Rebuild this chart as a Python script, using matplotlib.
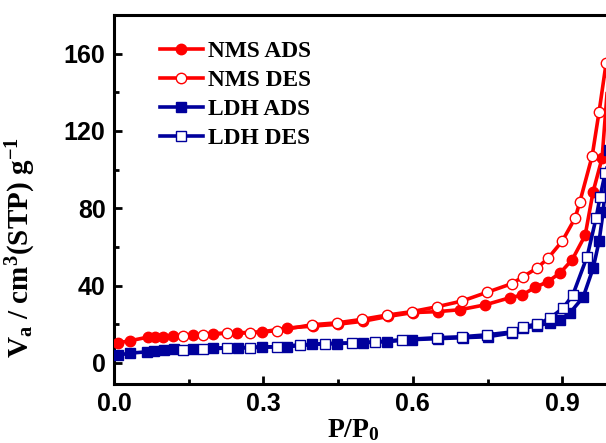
import matplotlib
matplotlib.use("Agg")
import matplotlib.pyplot as plt
from matplotlib.ticker import MultipleLocator

# N2 adsorption / desorption isotherms
nms_ads_x = [0.008, 0.032, 0.068, 0.082, 0.098, 0.118, 0.159, 0.199, 0.247, 0.297,
             0.347, 0.40, 0.45, 0.50, 0.55, 0.60, 0.65, 0.695, 0.745, 0.795,
             0.819, 0.845, 0.871, 0.896, 0.92, 0.946, 0.962, 0.98, 0.993]
nms_ads_y = [10.4, 11.4, 13.3, 13.4, 13.5, 14.0, 14.5, 15.0, 15.5, 16.0,
             18.0, 19.0, 20.0, 21.5, 24.0, 26.0, 26.5, 27.5, 30.0, 33.7,
             35.0, 39.0, 42.0, 46.6, 53.4, 66.0, 88.6, 106.0, 150.0]

nms_des_x = [0.988, 0.974, 0.96, 0.935, 0.926, 0.90, 0.871, 0.849, 0.821, 0.799,
             0.749, 0.699, 0.648, 0.598, 0.548, 0.498, 0.448, 0.397, 0.327, 0.273,
             0.227, 0.179, 0.139]
nms_des_y = [155.0, 130.0, 107.0, 83.0, 75.0, 63.0, 54.0, 49.0, 44.5, 41.0,
             36.5, 32.0, 29.0, 26.5, 24.7, 22.5, 20.7, 19.7, 16.6, 15.5,
             15.5, 14.5, 14.0]

ldh_ads_x = [0.008, 0.032, 0.066, 0.08, 0.10, 0.12, 0.159, 0.199, 0.249, 0.297,
             0.347, 0.397, 0.447, 0.50, 0.548, 0.598, 0.65, 0.70, 0.75, 0.80,
             0.821, 0.849, 0.875, 0.896, 0.916, 0.942, 0.962, 0.974, 0.982, 0.993]
ldh_ads_y = [4.0, 5.0, 5.7, 6.0, 6.7, 7.0, 7.0, 7.7, 7.8, 8.3,
             8.3, 9.5, 10.0, 10.4, 11.0, 12.0, 12.5, 13.0, 13.5, 15.5,
             18.0, 19.0, 20.7, 22.3, 26.0, 34.0, 49.0, 63.0, 78.0, 110.0]

ldh_des_x = [0.986, 0.976, 0.968, 0.95, 0.921, 0.902, 0.875, 0.849, 0.821, 0.799,
             0.749, 0.699, 0.648, 0.578, 0.524, 0.478, 0.424, 0.373, 0.327, 0.273,
             0.227, 0.179, 0.139]
ldh_des_y = [98.0, 86.0, 75.0, 55.0, 35.0, 28.5, 23.0, 20.0, 18.7, 16.0,
             14.5, 13.5, 13.0, 12.0, 10.8, 10.3, 10.0, 9.3, 8.3, 7.8,
             7.7, 7.0, 6.7]

RED = "#ff0000"
NAVY = "#00009c"

plt.rcParams["mathtext.default"] = "regular"

fig = plt.figure(figsize=(6.06, 4.43), dpi=100)
# axes run slightly past the right edge, like the cropped original
ax = fig.add_axes([0.188, 0.133, 0.822, 0.833])

lw = 2.6
ax.plot(nms_ads_x, nms_ads_y, color=RED, lw=lw, marker="o", ms=7.5,
        mfc=RED, mec=RED, label="NMS ADS", zorder=3)
ax.plot(ldh_ads_x, ldh_ads_y, color=NAVY, lw=lw, marker="s", ms=6.5,
        mfc=NAVY, mec=NAVY, label="LDH ADS", zorder=3)
ax.plot(nms_des_x, nms_des_y, color=RED, lw=lw, marker="o", ms=7.5,
        mfc="white", mec=RED, mew=1.0, label="NMS DES", zorder=4)
ax.plot(ldh_des_x, ldh_des_y, color=NAVY, lw=lw, marker="s", ms=6.5,
        mfc="white", mec=NAVY, mew=1.0, label="LDH DES", zorder=4)

ax.set_xlim(0, 1.0)
ax.set_ylim(-11, 180)
ax.xaxis.set_major_locator(MultipleLocator(0.3))
ax.xaxis.set_minor_locator(MultipleLocator(0.15))
ax.yaxis.set_major_locator(MultipleLocator(40))
ax.yaxis.set_minor_locator(MultipleLocator(20))
ax.xaxis.set_major_formatter(plt.FuncFormatter(lambda v, p: f"{v:.1f}"))

for s in ax.spines.values():
    s.set_linewidth(2.2)
ax.tick_params(which="both", direction="in", width=2, top=False, right=False)
ax.tick_params(which="major", length=6, pad=6)
ax.tick_params(which="minor", length=3.5)
for lab in ax.get_xticklabels() + ax.get_yticklabels():
    lab.set_fontfamily("Liberation Sans")
    lab.set_fontweight("bold")
    lab.set_fontsize(18)

serif = {"family": "Liberation Serif", "weight": "bold", "size": 20}
ax.set_xlabel("P/P$_0$", fontdict=serif)
ax.set_ylabel("V$_a$ / cm$^3$(STP) g$^{-1}$",
              fontdict={"family": "Liberation Serif", "weight": "bold", "size": 21})
ax.xaxis.set_label_coords(0.48, -0.09)
ax.yaxis.set_label_coords(-0.152, 0.37)

h, l = ax.get_legend_handles_labels()
order = [0, 2, 1, 3]
ax.legend([h[i] for i in order], [l[i] for i in order],
          loc="upper left", bbox_to_anchor=(0.092, 0.93), borderaxespad=0,
          borderpad=0, frameon=False, handlelength=1.85, handletextpad=0.2,
          labelspacing=0.33,
          prop={"family": "Liberation Serif", "weight": "bold", "size": 16.8})

fig.savefig("out.png", dpi=100)
